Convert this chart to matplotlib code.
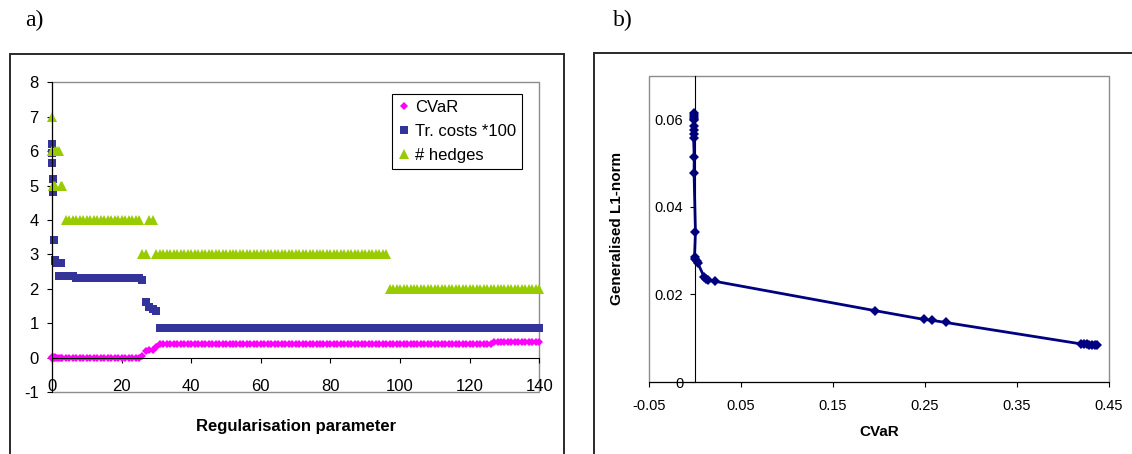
import numpy as np
import matplotlib
matplotlib.use("Agg")
import matplotlib.pyplot as plt
from matplotlib.patches import Rectangle

plt.rcParams["font.family"] = ["Liberation Sans", "DejaVu Sans"]
plt.rcParams["axes.unicode_minus"] = False

# ── panel a): values along the regularisation path ────────────
# first few (closely spaced) parameter values, read point by point
lam_head = [0, 0.05, 0.1, 0.2, 0.3, 0.5, 0.75, 1, 1.5, 2, 2.5, 3]
cvar_head = [0.0, 0.0, 0.01, 0.0, 0.01, 0.0, 0.0, 0.01, 0.0, 0.0, 0.0, 0.0]
costs_head = [6.2, 5.95, 5.65, 5.2, 4.8, 3.43, 2.85, 2.8, 2.75, 2.38, 2.75, 2.38]
hedges_head = [7, 6, 6, 5, 5, 5, 6, 5, 6, 6, 5, 5]

# remaining parameter values 4..140, stored as runs of equal values
lam_tail = np.arange(4, 141)
cvar_levels = [0.0, 0.05, 0.2, 0.22, 0.24, 0.3, 0.41, 0.46]
cvar_counts = [22, 1, 1, 1, 1, 1, 96, 14]
costs_levels = [2.38, 2.33, 2.27, 1.63, 1.47, 1.42, 1.37, 0.87]
costs_counts = [3, 19, 1, 1, 1, 1, 1, 110]
hedges_levels = [4, 3, 4, 3, 2]
hedges_counts = [22, 2, 2, 67, 44]

xticks_a = [0, 20, 40, 60, 80, 100, 120, 140]
yticks_a = [-1, 0, 1, 2, 3, 4, 5, 6, 7, 8]

# ── panel b): efficient frontier ──────────────────────────────
cvar_b = [-0.0010, -0.0010, -0.0010, -0.0012, -0.0012, -0.0013, -0.0015,
          -0.0015, -0.0015, -0.0008, -0.0010, 0.0005, -0.0005, 0.0005,
          0.0020, 0.0030, 0.0100, 0.0120, 0.0140, 0.0220, 0.1960, 0.2490,
          0.2576, 0.2728, 0.4200, 0.4230, 0.4260, 0.4290, 0.4320, 0.4350,
          0.4370]
l1_b = [0.0614, 0.0610, 0.0606, 0.0602, 0.0598, 0.0584, 0.0575, 0.0567,
        0.0557, 0.0514, 0.0478, 0.0343, 0.0285, 0.0281, 0.0277, 0.0272,
        0.0240, 0.0236, 0.0232, 0.0230, 0.0163, 0.0143, 0.0141, 0.0136,
        0.0087, 0.0086, 0.0086, 0.0085, 0.0085, 0.0084, 0.0084]
xticks_b = [-0.05, 0.05, 0.15, 0.25, 0.35, 0.45]
xticklabels_b = ["-0.05", "0.05", "0.15", "0.25", "0.35", "0.45"]
yticks_b = [0, 0.02, 0.04, 0.06]
yticklabels_b = ["0", "0.02", "0.04", "0.06"]

lam = np.concatenate([lam_head, lam_tail])
cvar = np.concatenate([cvar_head, np.repeat(cvar_levels, cvar_counts)])
costs = np.concatenate([costs_head, np.repeat(costs_levels, costs_counts)])
hedges = np.concatenate([hedges_head, np.repeat(hedges_levels, hedges_counts)])

W, H = 1132, 454
fig = plt.figure(figsize=(W / 100, H / 100), dpi=100)


def axes_px(left, top, right, bottom):
    return fig.add_axes([left / W, 1 - bottom / H,
                         (right - left) / W, (bottom - top) / H])


# outer chart frames (run off the bottom / right of the picture)
fig.patches.append(Rectangle((9.5 / W, -0.1), (564 - 9.5) / W,
                             1.1 - 54.3 / H, transform=fig.transFigure,
                             fill=False, ec="#2a2a2a", lw=1.4))
fig.patches.append(Rectangle((593.7 / W, -0.1), 0.6, 1.1 - 53.3 / H,
                             transform=fig.transFigure,
                             fill=False, ec="#2a2a2a", lw=1.4))

fig.text(25 / W, 1 - 20 / H, "a)", family=["Liberation Serif"],
         fontsize=17, ha="left", va="center")
fig.text(612.7 / W, 1 - 20 / H, "b)", family=["Liberation Serif"],
         fontsize=17, ha="left", va="center")

# ── panel a ───────────────────────────────────────────────────
ax1 = axes_px(52, 82.3, 539.3, 392.2)
ax1.plot(lam, cvar, ls="none", marker="D", ms=3.6, mew=0,
         color="#FF00FF", label="CVaR", clip_on=False)
ax1.plot(lam, costs, ls="none", marker="s", ms=5.2, mew=0,
         color="#333399", label="Tr. costs *100", clip_on=False)
ax1.plot(lam, hedges, ls="none", marker="^", ms=6.6, mew=0,
         color="#99CC00", label="# hedges", clip_on=False)
ax1.set_xlim(0, 140)
ax1.set_ylim(-1, 8)
ax1.set_xticks(xticks_a)
ax1.set_yticks(yticks_a)
for s in ["top", "right"]:
    ax1.spines[s].set_visible(False)
ax1.spines["bottom"].set_position(("data", 0))
for s in ["left", "bottom"]:
    ax1.spines[s].set_linewidth(0.8)
ax1.add_patch(Rectangle((0, 0), 1, 1, transform=ax1.transAxes, fill=False,
                        ec="#8c8c8c", lw=1.0, clip_on=False, zorder=0.5))
ax1.tick_params(axis="both", direction="out", length=3.6, width=0.8,
                labelsize=12)
ax1.tick_params(axis="x", pad=12)
ax1.tick_params(axis="y", pad=6)
ax1.set_xlabel("Regularisation parameter", fontsize=12, fontweight="bold",
               va="center")
ax1.xaxis.set_label_coords(0.5, -0.112)
ax1.legend(loc="upper right", bbox_to_anchor=(0.9637, 0.9622),
           borderaxespad=0, fontsize=12, fancybox=False, framealpha=1,
           edgecolor="black", handlelength=0.7, handletextpad=0.3,
           borderpad=0.35, labelspacing=0.55, numpoints=1)
ax1.get_legend().get_frame().set_linewidth(0.8)

# ── panel b ───────────────────────────────────────────────────
ax2 = axes_px(649, 75.7, 1108.7, 382)
ax2.plot(cvar_b, l1_b, color="#000080", lw=2.0, marker="D", ms=5.2,
         mew=0, clip_on=False)
ax2.set_xlim(-0.05, 0.45)
ax2.set_ylim(0, 0.07)
ax2.set_xticks(xticks_b)
ax2.set_xticklabels(xticklabels_b)
ax2.set_yticks(yticks_b)
ax2.set_yticklabels(yticklabels_b)
for s in ["top", "right"]:
    ax2.spines[s].set_visible(False)
ax2.spines["left"].set_position(("data", 0))
for s in ["left", "bottom"]:
    ax2.spines[s].set_linewidth(0.8)
ax2.add_patch(Rectangle((0, 0), 1, 1, transform=ax2.transAxes, fill=False,
                        ec="#8c8c8c", lw=1.0, clip_on=False, zorder=0.5))
ax2.tick_params(axis="both", direction="out", length=3.5, width=0.8,
                labelsize=10.5)
ax2.tick_params(axis="x", pad=9)
ax2.tick_params(axis="y", pad=5)
ax2.set_xlabel("CVaR", fontsize=11, fontweight="bold", va="center")
ax2.xaxis.set_label_coords(0.5, -0.163)
ax2.set_ylabel("Generalised L1-norm", fontsize=11, fontweight="bold",
               va="center")
ax2.yaxis.set_label_coords((617 - 649) / 460, 0.5)

fig.savefig("out.png", dpi=100)
